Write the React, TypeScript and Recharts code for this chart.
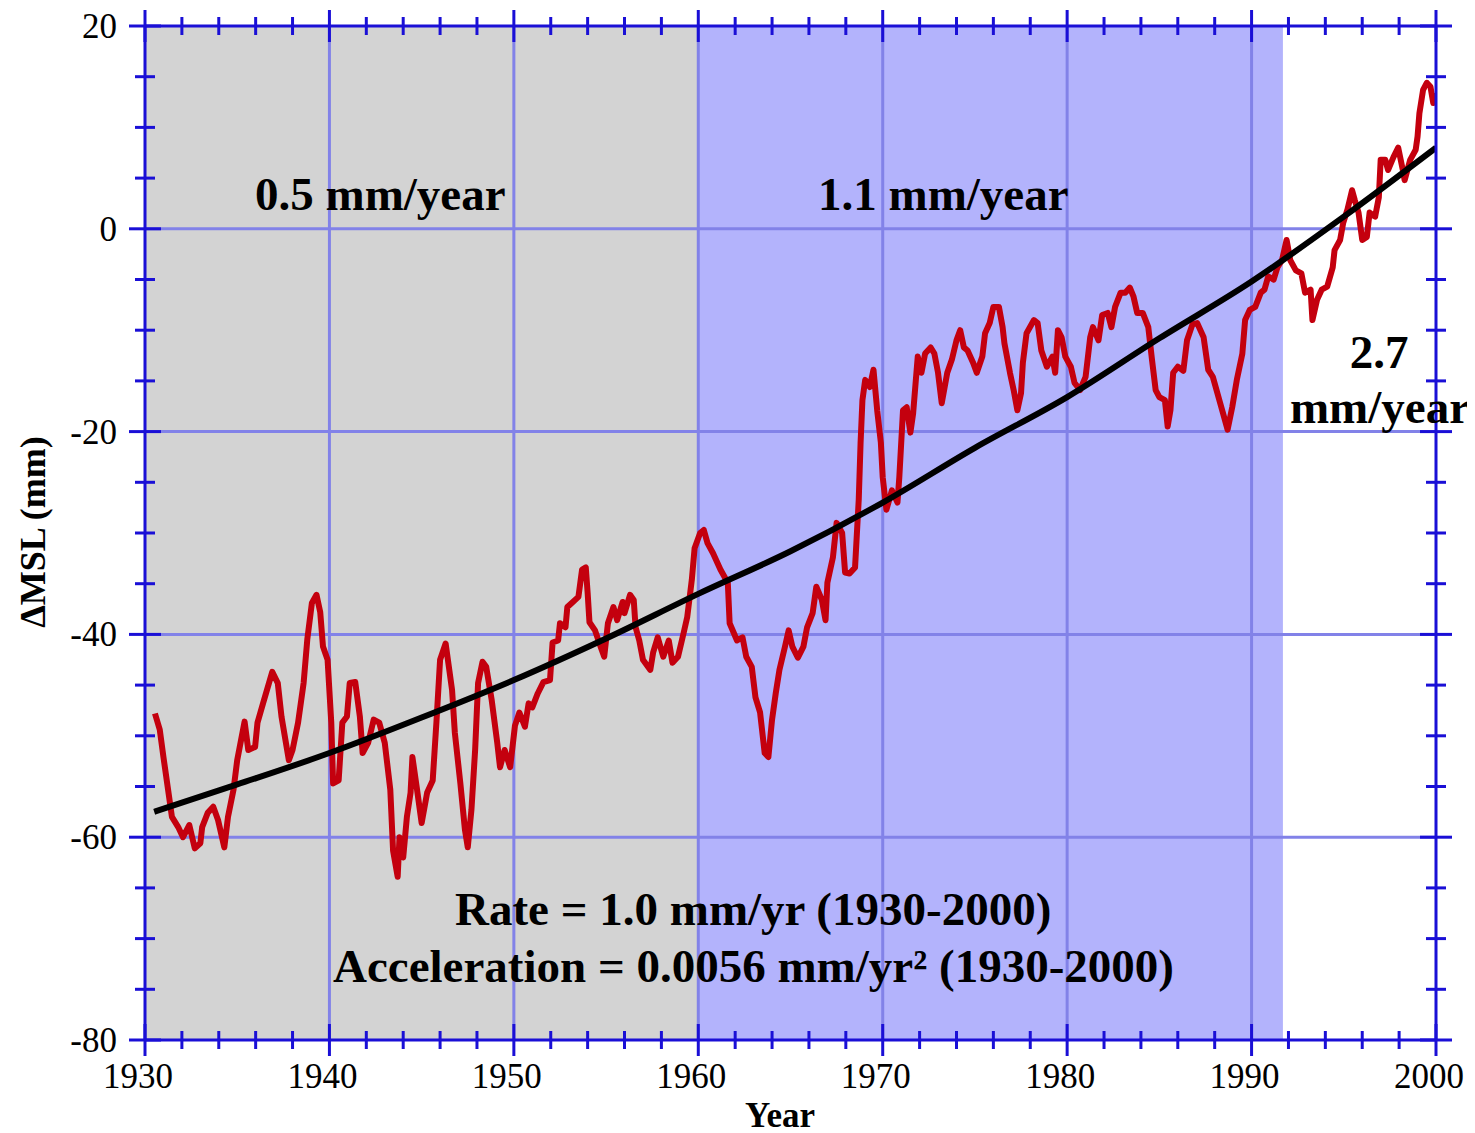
import React from 'react'
import { ComposedChart, Line, XAxis, YAxis, ReferenceArea, ReferenceLine } from 'recharts'

// monthly-smoothed gauge record (year, mm)
const gaugeYears = [
  1930.54, 1930.8, 1931.0, 1931.25, 1931.46, 1931.8, 1932.06, 1932.4, 1932.7, 1933.0,
  1933.1, 1933.4, 1933.7, 1933.96, 1934.3, 1934.5, 1934.8, 1935.0, 1935.4, 1935.6,
  1935.97, 1936.1, 1936.4, 1936.9, 1937.2, 1937.4, 1937.8, 1938.0, 1938.3, 1938.6,
  1938.8, 1939.05, 1939.3, 1939.5, 1939.65, 1939.9, 1940.1, 1940.2, 1940.5, 1940.7,
  1940.95, 1941.1, 1941.4, 1941.65, 1941.8, 1942.1, 1942.4, 1942.7, 1943.0, 1943.3,
  1943.45, 1943.7, 1943.8, 1944.0, 1944.2, 1944.4, 1944.5, 1944.75, 1945.0, 1945.3,
  1945.6, 1945.8, 1946.0, 1946.3, 1946.4, 1946.65, 1946.8, 1947.1, 1947.35, 1947.5,
  1947.7, 1947.9, 1948.06, 1948.3, 1948.5, 1948.8, 1949.1, 1949.25, 1949.5, 1949.8,
  1950.06, 1950.3, 1950.6, 1950.8, 1951.0, 1951.3, 1951.6, 1951.96, 1952.1, 1952.4,
  1952.5, 1952.8, 1952.9, 1953.2, 1953.5, 1953.7, 1953.9, 1954.0, 1954.1, 1954.4,
  1954.7, 1954.9, 1955.1, 1955.4, 1955.6, 1955.9, 1956.0, 1956.3, 1956.5, 1956.6,
  1956.8, 1957.0, 1957.4, 1957.55, 1957.8, 1958.1, 1958.4, 1958.6, 1958.9, 1959.2,
  1959.4, 1959.65, 1959.8, 1960.1, 1960.3, 1960.5, 1960.8, 1961.2, 1961.6, 1961.7,
  1962.1, 1962.4, 1962.6, 1962.9, 1963.1, 1963.35, 1963.6, 1963.8, 1964.0, 1964.2,
  1964.4, 1964.7, 1964.9, 1965.1, 1965.4, 1965.7, 1965.9, 1966.2, 1966.4, 1966.7,
  1966.9, 1967.0, 1967.3, 1967.5, 1967.8, 1967.96, 1968.2, 1968.5, 1968.7, 1968.8,
  1968.9, 1969.05, 1969.3, 1969.5, 1969.7, 1969.9, 1970.0, 1970.2, 1970.5, 1970.8,
  1970.9, 1971.1, 1971.3, 1971.5, 1971.65, 1971.9, 1972.1, 1972.3, 1972.6, 1972.8,
  1973.0, 1973.2, 1973.5, 1973.75, 1974.0, 1974.2, 1974.4, 1974.6, 1974.9, 1975.1,
  1975.4, 1975.55, 1975.8, 1976.0, 1976.3, 1976.5, 1976.6, 1976.9, 1977.1, 1977.3,
  1977.5, 1977.6, 1977.8, 1978.2, 1978.4, 1978.6, 1978.9, 1979.2, 1979.35, 1979.5,
  1979.7, 1979.9, 1980.2, 1980.4, 1980.7, 1981.0, 1981.25, 1981.4, 1981.7, 1981.9,
  1982.2, 1982.4, 1982.6, 1982.9, 1983.15, 1983.4, 1983.6, 1983.8, 1984.1, 1984.4,
  1984.6, 1984.8, 1985.0, 1985.3, 1985.45, 1985.6, 1985.75, 1986.0, 1986.3, 1986.5,
  1986.8, 1987.05, 1987.4, 1987.65, 1987.9, 1988.3, 1988.7, 1988.95, 1989.2, 1989.5,
  1989.65, 1989.9, 1990.2, 1990.5, 1990.7, 1990.9, 1991.2, 1991.4, 1991.65, 1991.9,
  1992.1, 1992.4, 1992.7, 1992.9, 1993.2, 1993.3, 1993.55, 1993.8, 1994.1, 1994.4,
  1994.5, 1994.8, 1994.97, 1995.2, 1995.45, 1995.6, 1995.8, 1996.0, 1996.25, 1996.4,
  1996.7, 1996.9, 1997.0, 1997.25, 1997.4, 1997.7, 1997.95, 1998.2, 1998.3, 1998.6,
  1998.9, 1999.0, 1999.1, 1999.3, 1999.5, 1999.7, 1999.85, 2000.0,
]
const gaugeMsl = [
  -47.8, -49.4, -52.1, -55.3, -58.0, -59.0, -60.0, -58.8, -61.1, -60.6,
  -59.0, -57.6, -57.0, -58.3, -61.0, -58.0, -55.3, -52.4, -48.6, -51.4,
  -51.1, -48.7, -46.8, -43.7, -44.8, -48.1, -52.4, -51.4, -48.7, -44.8,
  -40.5, -36.9, -36.1, -37.8, -41.2, -42.5, -48.7, -54.7, -54.4, -48.7,
  -48.1, -44.8, -44.7, -48.1, -51.7, -50.7, -48.4, -48.7, -50.7, -55.3,
  -61.3, -63.9, -60.0, -62.0, -58.0, -55.6, -52.1, -55.3, -58.6, -55.6,
  -54.4, -48.7, -42.5, -40.9, -42.2, -45.5, -49.7, -54.7, -59.3, -61.0,
  -57.3, -51.4, -44.8, -42.7, -43.2, -46.5, -50.7, -53.1, -51.4, -53.1,
  -49.0, -47.7, -49.1, -46.8, -47.2, -45.8, -44.7, -44.5, -40.8, -40.6,
  -38.9, -39.3, -37.3, -36.8, -36.3, -33.6, -33.4, -35.9, -38.8, -39.6,
  -41.2, -42.2, -38.9, -37.3, -38.6, -36.8, -37.9, -36.1, -36.6, -39.3,
  -40.6, -42.5, -43.5, -41.8, -40.3, -42.2, -40.6, -42.8, -42.2, -39.9,
  -38.3, -34.6, -31.5, -30.0, -29.7, -31.0, -32.0, -33.6, -34.9, -38.9,
  -40.6, -40.3, -42.2, -43.2, -46.2, -47.7, -51.7, -52.1, -48.4, -45.8,
  -43.5, -41.2, -39.6, -41.2, -42.3, -41.2, -39.3, -37.9, -35.3, -36.6,
  -38.6, -34.9, -32.4, -29.0, -30.0, -33.9, -34.0, -33.4, -26.7, -21.1,
  -16.9, -14.9, -15.6, -13.9, -17.9, -21.1, -24.5, -27.7, -25.8, -27.0,
  -24.5, -17.9, -17.6, -20.1, -18.2, -12.6, -14.2, -12.3, -11.7, -12.3,
  -14.2, -17.2, -14.2, -12.9, -11.0, -10.0, -11.7, -12.0, -13.2, -14.2,
  -12.6, -10.3, -9.3, -7.7, -7.7, -9.7, -11.3, -14.2, -15.9, -17.9,
  -16.2, -13.2, -10.3, -9.0, -9.3, -12.0, -13.6, -12.6, -14.2, -10.0,
  -10.7, -12.6, -13.6, -15.2, -15.9, -14.6, -10.7, -9.7, -11.0, -8.5,
  -8.3, -9.7, -7.7, -6.3, -6.3, -5.8, -6.7, -8.3, -8.3, -9.7,
  -12.9, -15.9, -16.6, -16.9, -19.5, -17.9, -14.2, -13.6, -14.0, -11.0,
  -9.4, -9.3, -10.7, -13.9, -14.6, -17.2, -19.8, -17.6, -14.9, -12.3,
  -9.0, -8.0, -7.7, -6.3, -6.0, -4.7, -5.0, -3.8, -3.1, -1.1,
  -3.1, -4.1, -4.4, -6.3, -6.0, -9.0, -7.0, -6.0, -5.7, -3.8,
  -2.1, -1.1, 0.6, 1.9, 3.8, 2.8, 1.6, -1.1, -0.8, 1.6,
  1.2, 3.1, 6.8, 6.8, 5.8, 7.1, 8.0, 5.8, 4.8, 6.8,
  7.8, 9.1, 11.4, 13.7, 14.4, 14.0, 12.4, 13.4,
]

// quadratic fit 1930-2000
const fitYears = [1930.5, 1935, 1940, 1945, 1950, 1955, 1960, 1965, 1970, 1975, 1980, 1985, 1990, 1995, 2000]
const fitMsl = [-57.5, -54.8, -51.7, -48.2, -44.5, -40.4, -36.0, -31.8, -27.0, -21.6, -16.6, -10.8, -5.2, 1.2, 8.0]

const yearTicks = [
  1930, 1932, 1934, 1936, 1938, 1940, 1942, 1944, 1946, 1948, 1950, 1952, 1954, 1956, 1958,
  1960, 1962, 1964, 1966, 1968, 1970, 1972, 1974, 1976, 1978, 1980, 1982, 1984, 1986, 1988,
  1990, 1992, 1994, 1996, 1998, 2000,
]
const mslTicks = [-80, -75, -70, -65, -60, -55, -50, -45, -40, -35, -30, -25, -20, -15, -10, -5, 0, 5, 10, 15, 20]
const yearGrid = [1940, 1950, 1960, 1970, 1980, 1990]
const mslGrid = [-60, -40, -20, 0]

const periods = [
  { from: 1930, to: 1960, fill: '#d3d3d3' },
  { from: 1960, to: 1991.7, fill: '#b3b3fc' },
]

const gauge = gaugeYears.map((year, i) => ({ year, msl: gaugeMsl[i] }))
const fit = fitYears.map((year, i) => ({ year, msl: fitMsl[i] }))

const AXIS = '#1a0fd6'
const GRID = '#8282e8'
const FONT = '"Liberation Serif", "Times New Roman", serif'

function XTick(props: any) {
  const { x, y, payload, showLabel } = props
  const major = payload.value % 10 === 0
  const h = major ? 16 : 9
  return (
    <g>
      <line x1={x} x2={x} y1={y - h} y2={y + h} stroke={AXIS} strokeWidth={3} />
      {showLabel && major && (
        <text x={x - 7} y={y + 48} textAnchor="middle" fontSize={35} fontFamily={FONT} fill="#000">
          {payload.value}
        </text>
      )}
    </g>
  )
}

function YTick(props: any) {
  const { x, y, payload, showLabel } = props
  const major = payload.value % 20 === 0
  const w = major ? 16 : 10
  return (
    <g>
      <line x1={x - w} x2={x + w} y1={y} y2={y} stroke={AXIS} strokeWidth={3} />
      {showLabel && major && (
        <text x={x - 28} y={y + 12} textAnchor="end" fontSize={35} fontFamily={FONT} fill="#000">
          {payload.value}
        </text>
      )}
    </g>
  )
}

const bold = { fontFamily: FONT, fontWeight: 700, fill: '#000' } as const

export default function App() {
  return (
    <div style={{ position: 'relative', width: 1467, height: 1125 }}>
      <style>{'html { overflow: hidden; }'}</style>
      <ComposedChart width={1467} height={1125} margin={{ top: 0, right: 0, bottom: 0, left: 0 }}>
        <XAxis
          xAxisId="main"
          dataKey="year"
          type="number"
          domain={[1930, 2000]}
          ticks={yearTicks}
          interval={0}
          height={93}
          tickSize={0}
          tickMargin={0}
          tickLine={false}
          axisLine={{ stroke: AXIS, strokeWidth: 3 }}
          tick={(p: any) => <XTick {...p} showLabel />}
          allowDataOverflow
        />
        <XAxis
          xAxisId="top"
          orientation="top"
          dataKey="year"
          type="number"
          domain={[1930, 2000]}
          ticks={yearTicks}
          interval={0}
          height={18}
          tickSize={0}
          tickMargin={0}
          tickLine={false}
          axisLine={{ stroke: AXIS, strokeWidth: 3 }}
          tick={(p: any) => <XTick {...p} />}
          allowDataOverflow
        />
        <YAxis
          yAxisId="main"
          type="number"
          domain={[-80, 20]}
          ticks={mslTicks}
          interval={0}
          width={137}
          tickSize={0}
          tickMargin={0}
          tickLine={false}
          axisLine={{ stroke: AXIS, strokeWidth: 3 }}
          tick={(p: any) => <YTick {...p} showLabel />}
          allowDataOverflow
        />
        <YAxis
          yAxisId="right"
          orientation="right"
          type="number"
          domain={[-80, 20]}
          ticks={mslTicks}
          interval={0}
          width={39}
          tickSize={0}
          tickMargin={0}
          tickLine={false}
          axisLine={{ stroke: AXIS, strokeWidth: 3 }}
          tick={(p: any) => <YTick {...p} />}
          allowDataOverflow
        />
        {periods.map((p) => (
          <ReferenceArea
            key={p.from}
            xAxisId="main"
            yAxisId="main"
            x1={p.from}
            x2={p.to}
            y1={-80}
            y2={20}
            fill={p.fill}
            fillOpacity={1}
            stroke="none"
          />
        ))}
        {yearGrid.map((v) => (
          <ReferenceLine key={'x' + v} xAxisId="main" yAxisId="main" x={v} stroke={GRID} strokeWidth={3} />
        ))}
        {mslGrid.map((v) => (
          <ReferenceLine key={'y' + v} xAxisId="main" yAxisId="main" y={v} stroke={GRID} strokeWidth={3} />
        ))}
        <Line
          xAxisId="main"
          yAxisId="main"
          data={gauge}
          dataKey="msl"
          type="linear"
          stroke="#c4000e"
          strokeWidth={6}
          strokeLinejoin="round"
          dot={false}
          isAnimationActive={false}
        />
        <Line
          xAxisId="main"
          yAxisId="main"
          data={fit}
          dataKey="msl"
          type="monotone"
          stroke="#000"
          strokeWidth={6}
          dot={false}
          isAnimationActive={false}
        />
      </ComposedChart>
      <svg
        width={1467}
        height={1125}
        style={{ position: 'absolute', left: 0, top: 0, overflow: 'visible', pointerEvents: 'none' }}
      >
        <text x={247} y={202} fontSize={47} {...bold}>0.5 mm/year</text>
        <text x={810} y={202} fontSize={47} {...bold}>1.1 mm/year</text>
        <text x={1371} y={360} fontSize={47} textAnchor="middle" {...bold}>2.7</text>
        <text x={1372} y={415} fontSize={47} textAnchor="middle" {...bold}>mm/year</text>
        <text x={447} y={917} fontSize={47} {...bold}>Rate = 1.0 mm/yr (1930-2000)</text>
        <text x={325} y={974} fontSize={47} {...bold}>Acceleration = 0.0056 mm/yr² (1930-2000)</text>
        <text x={772} y={1119} fontSize={35} textAnchor="middle" {...bold}>Year</text>
        <text x={37} y={524} fontSize={36} textAnchor="middle" transform="rotate(-90 37 524)" {...bold}>
          ΔMSL (mm)
        </text>
      </svg>
    </div>
  )
}
